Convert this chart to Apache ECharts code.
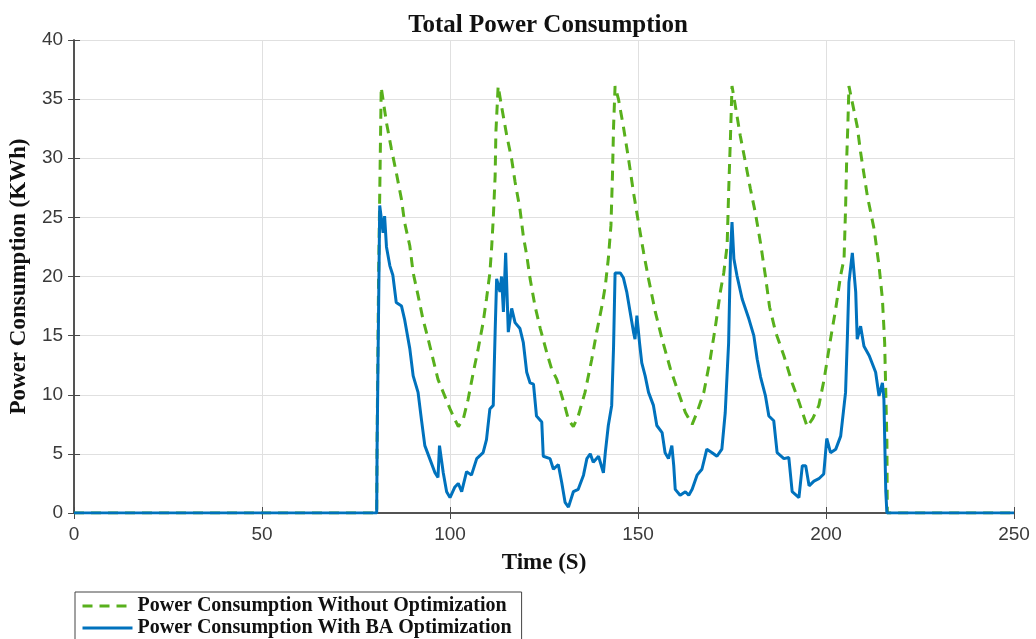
<!DOCTYPE html>
<html>
<head>
<meta charset="utf-8">
<script src="https://cdn.jsdelivr.net/npm/echarts@6/dist/echarts.min.js"></script>
<style>
html, body { margin: 0; padding: 0; background: #fff; }
#chart { width: 1036px; height: 639px; }
</style>
</head>
<body>
<div id="chart"></div>
<script>
// Power Consumption Without Optimization (green dashed)
var noOptTime = [0, 80.5, 80.6, 81.0, 81.7, 83.1, 84.4, 85.7, 87.1, 87.9, 89.3, 90.2, 91.5, 92.8, 94.2, 95.5, 96.8, 98.2, 100.0, 101.3, 102.2,
    103.5, 104.8, 106.2, 107.5, 108.8, 109.7, 110.6, 111.1, 111.5, 112.0, 112.2, 112.8, 113.7, 115.1, 116.4, 117.3, 118.6, 119.5, 120.4,
    121.3, 122.6, 124.0, 125.7, 127.0, 128.4, 130.4, 131.5, 132.8, 134.1, 135.9, 137.7, 139.0, 140.4, 141.3, 142.1, 142.8, 143.2, 143.5,
    143.9, 144.8, 146.1, 147.5, 148.8, 150.1, 151.5, 152.8, 154.6, 156.4, 158.6, 160.4, 162.6, 164.4, 165.7, 167.5, 169.2, 170.6, 171.9,
    172.8, 173.7, 174.1, 174.6, 175.0, 175.9, 177.2, 178.6, 179.9, 181.2, 182.6, 183.9, 185.0, 186.6, 188.8, 191.0, 192.8, 195.0, 196.5,
    198.1, 199.5, 201.2, 202.6, 203.9, 204.8, 205.2, 205.5, 205.8, 206.1, 207.0, 208.3, 209.2, 211.0, 212.8, 214.1, 215.0, 215.6, 215.9,
    216.2, 216.3, 250];
var noOptPower = [0, 0, 6, 20, 36.0, 33.0, 30.8, 28.8, 26.5, 24.6, 22.6, 20.3, 18.4, 16.4, 14.7, 13.0, 11.3, 10.2, 8.8, 7.9, 7.3,
    7.9, 9.6, 11.9, 13.9, 16.1, 18.1, 20.3, 22.6, 24.9, 28.5, 32.2, 36.1, 34.4, 31.9, 29.9, 28.0, 25.7, 23.4, 21.8,
    19.8, 17.5, 15.6, 13.6, 12.2, 11.3, 9.2, 7.9, 7.3, 8.2, 10.2, 13.0, 15.3, 17.5, 19.2, 21.5, 24.3, 28.5, 32.7,
    36.1, 35.0, 32.7, 29.9, 27.1, 24.6, 22.0, 19.8, 17.0, 14.7, 12.2, 10.5, 8.5, 7.5, 8.5, 10.2, 13.0, 15.8, 18.7,
    20.3, 22.6, 27.1, 31.9, 36.1, 34.4, 31.9, 29.6, 27.4, 25.4, 22.8, 20.0, 17.4, 15.3, 13.3, 11.0, 9.4, 7.3, 8.0,
    9.1, 11.3, 14.7, 17.3, 20.1, 21.5, 25.7, 29.9, 32.7, 36.1, 34.7, 32.7, 30.5, 26.8, 24.0, 20.9, 18.1, 14.4, 10.2,
    6.0, 0, 0];

// Power Consumption With BA Optimization (blue solid)
var baTime = [0, 80.5, 80.6, 81.0, 81.3, 81.7, 82.2, 82.6, 83.1, 84.0, 84.8, 85.7, 87.1, 87.9, 89.3, 90.2, 91.5, 92.4, 93.3, 94.6,
    96.0, 96.8, 97.2, 97.5, 98.2, 99.1, 100.0, 101.3, 102.2, 103.1, 104.4, 105.7, 107.1, 108.8, 109.7, 110.6, 111.5, 112.0, 112.4,
    113.3, 113.7, 114.2, 114.8, 115.5, 116.4, 117.3, 118.6, 119.5, 120.4, 121.3, 122.2, 123.0, 124.4, 124.8, 126.6, 127.5, 128.8,
    129.7, 130.6, 131.5, 132.8, 134.1, 135.5, 136.4, 137.3, 138.1, 139.5, 140.8, 141.3, 142.1, 143.0, 143.5, 143.9, 145.3, 146.1,
    147.0, 147.9, 148.8, 149.2, 149.7, 150.4, 151.0, 151.9, 152.8, 154.1, 155.0, 156.4, 157.2, 158.1, 159.0, 159.5, 159.9, 161.2,
    162.6, 163.5, 164.4, 165.7, 167.0, 168.3, 169.7, 171.0, 172.3, 173.2, 174.1, 174.6, 175.0, 175.5, 176.3, 177.7, 179.5, 180.8,
    181.7, 182.6, 183.9, 184.8, 186.1, 187.0, 188.8, 190.1, 191.0, 192.8, 193.7, 194.6, 195.5, 196.8, 198.1, 199.4, 200.2, 201.2,
    202.6, 203.9, 205.2, 205.7, 206.1, 207.0, 207.9, 208.3, 209.2, 210.1, 211.5, 213.2, 214.1, 215.0, 215.4, 215.9, 216.2, 250];
var baPower = [0, 0, 5.3, 5.3, 26.0, 26.0, 23.7, 25.1, 22.5, 20.9, 20.1, 17.8, 17.5, 16.4, 13.9, 11.6, 10.2, 7.9, 5.7, 4.6,
    3.4, 3.0, 5.7, 5.7, 3.4, 1.8, 1.3, 2.2, 2.5, 1.8, 3.5, 3.2, 4.6, 5.1, 6.2, 8.8, 9.1, 15.3, 19.8,
    18.7, 20.0, 17.0, 22.0, 15.3, 17.3, 16.1, 15.6, 14.4, 11.9, 11.0, 10.9, 8.2, 7.7, 4.8, 4.6, 3.7, 4.1,
    2.6, 0.9, 0.5, 1.8, 2.0, 3.2, 4.6, 5.0, 4.3, 4.8, 3.4, 5.1, 7.4, 9.1, 14.1, 20.3, 20.3, 19.9,
    18.7, 17.0, 15.3, 14.7, 16.7, 14.4, 12.7, 11.6, 10.2, 9.1, 7.4, 6.8, 5.1, 4.6, 5.7, 4.0, 2.0, 1.5,
    1.8, 1.5, 2.0, 3.2, 3.7, 5.4, 5.1, 4.8, 5.4, 8.5, 14.4, 22.0, 24.6, 21.5, 20.1, 18.1, 16.4, 15.0,
    13.0, 11.5, 9.9, 8.2, 7.8, 5.1, 4.6, 4.7, 1.8, 1.3, 4.0, 4.0, 2.3, 2.7, 2.9, 3.3, 6.3, 5.1,
    5.4, 6.5, 10.2, 15.0, 19.5, 22.0, 18.7, 14.7, 15.8, 14.1, 13.3, 11.9, 9.9, 11.0, 9.6, 1.8, 0, 0];

var xTicks = [0, 50, 100, 150, 200, 250];
var yTicks = [0, 5, 10, 15, 20, 25, 30, 35, 40];

function pairs(xs, ys) {
    var out = [];
    for (var i = 0; i < xs.length; i++) {
        out.push([xs[i], ys[i]]);
    }
    return out;
}

var serif = '"Liberation Serif", "Times New Roman", serif';
var sans = '"Liberation Sans", Arial, sans-serif';
var axisColor = '#4a4a4a';

var chart = echarts.init(document.getElementById('chart'));
chart.setOption({
    animation: false,
    title: {
        text: 'Total Power Consumption',
        left: 543,
        textAlign: 'center',
        top: 8,
        textStyle: { fontFamily: serif, fontWeight: 'bold', fontSize: 25, color: '#111' }
    },
    legend: {
        orient: 'vertical',
        left: 75,
        top: 592,
        height: 80,
        itemWidth: 50,
        itemHeight: 12,
        itemGap: 2,
        padding: [4, 10, 20, 6],
        borderColor: '#444',
        borderWidth: 1,
        borderRadius: 0,
        itemStyle: { opacity: 0 },
        lineStyle: { width: 3 },
        textStyle: { fontFamily: serif, fontWeight: 'bold', fontSize: 20, color: '#111' },
        data: ['Power Consumption Without Optimization', 'Power Consumption With BA Optimization']
    },
    grid: { left: 74, right: 22, top: 40, bottom: 126 },
    xAxis: [{
        type: 'value',
        min: xTicks[0],
        max: xTicks[xTicks.length - 1],
        interval: 50,
        name: 'Time (S)',
        nameLocation: 'middle',
        nameGap: 39,
        nameTextStyle: { fontFamily: serif, fontWeight: 'bold', fontSize: 23, color: '#111' },
        axisLine: { lineStyle: { color: axisColor, width: 1.5 } },
        axisTick: { inside: true, length: 6, lineStyle: { color: axisColor } },
        axisLabel: { margin: 12, fontFamily: sans, fontSize: 19, color: '#3a3a3a' },
        splitLine: { show: true, lineStyle: { color: '#e0e0e0', width: 1 } }
    }, {
        type: 'value',
        position: 'top',
        min: xTicks[0],
        max: xTicks[xTicks.length - 1],
        interval: 50,
        axisLine: { lineStyle: { color: axisColor, width: 1.5 } },
        axisTick: { inside: true, length: 6, lineStyle: { color: axisColor } },
        axisLabel: { show: false },
        splitLine: { show: false }
    }],
    yAxis: [{
        type: 'value',
        min: yTicks[0],
        max: yTicks[yTicks.length - 1],
        interval: 5,
        name: 'Power Consumption (KWh)',
        nameLocation: 'middle',
        nameGap: 42,
        nameTextStyle: { fontFamily: serif, fontWeight: 'bold', fontSize: 23, color: '#111' },
        axisLine: { show: true, lineStyle: { color: axisColor, width: 1.5 } },
        axisTick: { show: true, inside: true, length: 6, lineStyle: { color: axisColor } },
        axisLabel: { margin: 11, fontFamily: sans, fontSize: 19, color: '#3a3a3a' },
        splitLine: { show: true, lineStyle: { color: '#e0e0e0', width: 1 } }
    }, {
        type: 'value',
        position: 'right',
        min: yTicks[0],
        max: yTicks[yTicks.length - 1],
        interval: 5,
        axisLine: { show: true, lineStyle: { color: axisColor, width: 1.5 } },
        axisTick: { show: true, inside: true, length: 6, lineStyle: { color: axisColor } },
        axisLabel: { show: false },
        splitLine: { show: false }
    }],
    series: [{
        name: 'Power Consumption Without Optimization',
        type: 'line',
        symbol: 'none',
        color: '#58b01c',
        lineStyle: { color: '#58b01c', width: 3, type: [10, 7] },
        data: pairs(noOptTime, noOptPower)
    }, {
        name: 'Power Consumption With BA Optimization',
        type: 'line',
        symbol: 'none',
        color: '#0072BD',
        lineStyle: { color: '#0072BD', width: 3 },
        data: pairs(baTime, baPower)
    }]
});
</script>
</body>
</html>
